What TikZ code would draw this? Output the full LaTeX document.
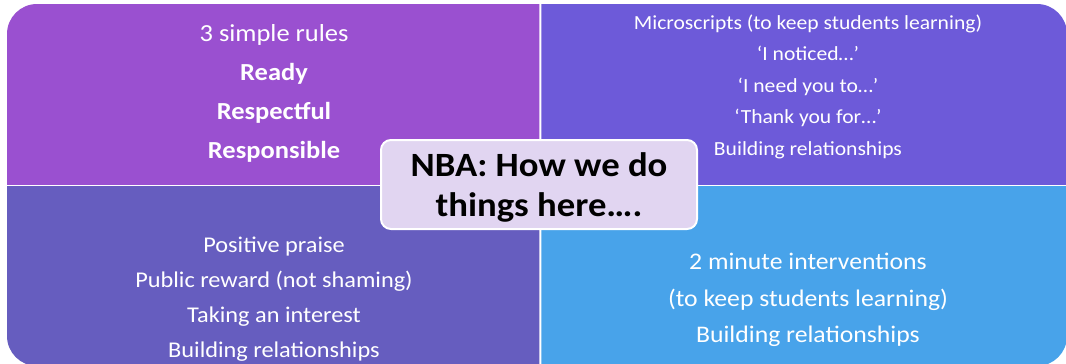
\documentclass[tikz,border=0pt]{standalone}
\usepackage{fontspec}
\setmainfont{Carlito}[FakeStretch=1.08]
\definecolor{qtl}{HTML}{9A50D0}
\definecolor{qtr}{HTML}{6D5AD9}
\definecolor{qbl}{HTML}{665DBF}
\definecolor{qbr}{HTML}{48A3EA}
\definecolor{cbox}{HTML}{E1D5F1}
\begin{document}
\begin{tikzpicture}[x=1pt,y=-1pt,
  quadtext/.style={text=white, align=center, inner sep=0pt},
  centerbox/.style={fill=cbox, draw=white, line width=2pt, rounded corners=10pt, minimum width=316pt, minimum height=89pt, align=center, inner sep=0pt, font=\fontsize{34}{40}\selectfont\bfseries}]
\useasboundingbox (0,0) rectangle (1066,364);
\def\outer{(7,4) rectangle (1067,366)}
\begin{scope}\clip (0,0) rectangle (539.3,184.3);\fill[qtl, rounded corners=30pt] \outer;\end{scope}
\begin{scope}\clip (541.3,0) rectangle (1070,184.3);\fill[qtr, rounded corners=30pt] \outer;\end{scope}
\begin{scope}\clip (0,186.3) rectangle (539.3,370);\fill[qbl, rounded corners=30pt] \outer;\end{scope}
\begin{scope}\clip (541.3,186.3) rectangle (1070,370);\fill[qbr, rounded corners=30pt] \outer;\end{scope}
\node[quadtext, font=\fontsize{24.5}{39}\selectfont] (tl) at (274,93)
  {3 simple rules\\\textbf{Ready}\\\textbf{Respectful}\\\textbf{Responsible}};
\node[quadtext, font=\fontsize{20}{31.5}\selectfont] (tr) at (808,86.5)
  {Microscripts (to keep students learning)\\‘I noticed…’\\‘I need you to…’\\‘Thank you for…’\\Building relationships};
\node[quadtext, font=\fontsize{22.5}{35}\selectfont] (bl) at (274,299)
  {Positive praise\\Public reward (not shaming)\\Taking an interest\\Building relationships};
\node[quadtext, font=\fontsize{23.8}{36.5}\selectfont] (br) at (808,300)
  {2 minute interventions\\(to keep students learning)\\Building relationships};
\node[centerbox] (c) at (539,184.5) {\rule{0pt}{29pt}NBA: How we do\\things here….};
\end{tikzpicture}
\end{document}
